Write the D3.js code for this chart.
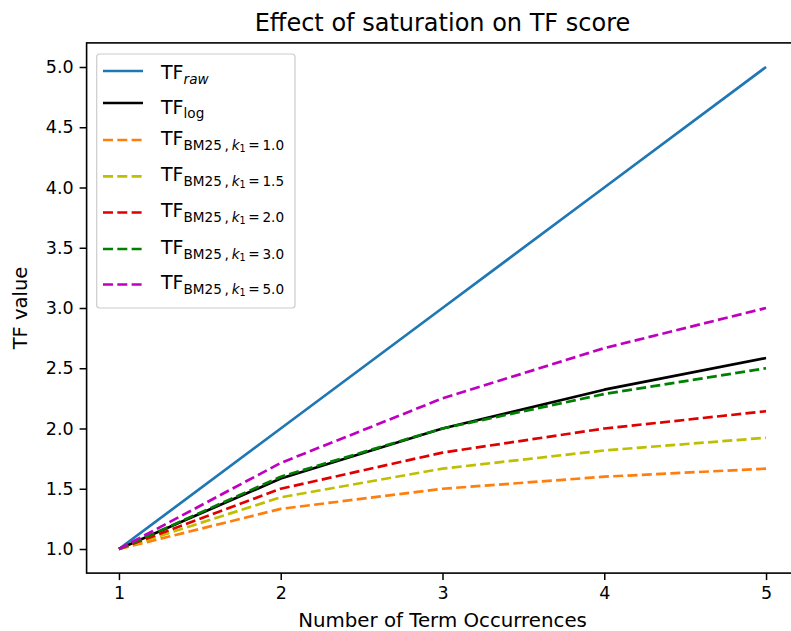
<!DOCTYPE html>
<html>
<head>
<meta charset="utf-8">
<script src="https://cdn.jsdelivr.net/npm/d3@7"></script>
<style>
  html, body { margin: 0; padding: 0; background: #fff; }
  svg { display: block; font-family: "DejaVu Sans", sans-serif; }
</style>
</head>
<body>
<svg id="chart" width="791" height="631"></svg>
<script>
// Term occurrence counts on the x axis
const occurrences = [1, 2, 3, 4, 5];

// TF variants for each occurrence count
const tfRaw = [1, 2, 3, 4, 5];
const tfLog = [1, 1.585, 2, 2.322, 2.585];
const bm25K1_0 = [1, 1.333, 1.5, 1.6, 1.667];
const bm25K1_5 = [1, 1.429, 1.667, 1.818, 1.923];
const bm25K2_0 = [1, 1.5, 1.8, 2.0, 2.143];
const bm25K3_0 = [1, 1.6, 2.0, 2.286, 2.5];
const bm25K5_0 = [1, 1.714, 2.25, 2.667, 3.0];

const xTicks = [1, 2, 3, 4, 5];
const yTicks = [1.0, 1.5, 2.0, 2.5, 3.0, 3.5, 4.0, 4.5, 5.0];

const series = [
  { values: tfRaw,    color: "#1f77b4", dashed: false, label: { kind: "raw" } },
  { values: tfLog,    color: "#000000", dashed: false, label: { kind: "log" } },
  { values: bm25K1_0, color: "#ff7f0e", dashed: true,  label: { kind: "bm25", k: "1.0" } },
  { values: bm25K1_5, color: "#bfbf00", dashed: true,  label: { kind: "bm25", k: "1.5" } },
  { values: bm25K2_0, color: "#e00000", dashed: true,  label: { kind: "bm25", k: "2.0" } },
  { values: bm25K3_0, color: "#008000", dashed: true,  label: { kind: "bm25", k: "3.0" } },
  { values: bm25K5_0, color: "#bf00bf", dashed: true,  label: { kind: "bm25", k: "5.0" } }
];

const svg = d3.select("#chart");
const plot = { left: 86.6, right: 798.4, top: 42.9, bottom: 573.1 };

const x = d3.scaleLinear().domain([0.8, 5.2]).range([plot.left, plot.right]);
const y = d3.scaleLinear().domain([0.8, 5.2]).range([plot.bottom, plot.top]);

const lineW = 2.7;
const dash = `${3.7 * lineW},${1.6 * lineW}`;

// Data lines
const line = d3.line().x((d, i) => x(occurrences[i])).y(d => y(d));
svg.append("g").selectAll("path").data(series).join("path")
  .attr("d", d => line(d.values))
  .attr("fill", "none")
  .attr("stroke", d => d.color)
  .attr("stroke-width", lineW)
  .attr("stroke-dasharray", d => d.dashed ? dash : null)
  .attr("stroke-linejoin", "round");

// Axes
const xAxis = svg.append("g").attr("transform", `translate(0,${plot.bottom})`)
  .call(d3.axisBottom(x).tickValues(xTicks).tickFormat(d3.format("d")).tickSize(7).tickPadding(6));
const yAxis = svg.append("g").attr("transform", `translate(${plot.left},0)`)
  .call(d3.axisLeft(y).tickValues(yTicks).tickFormat(d3.format(".1f")).tickSize(7).tickPadding(6));
[xAxis, yAxis].forEach(g => {
  g.select(".domain").remove();
  g.selectAll(".tick line").attr("stroke", "#000").attr("stroke-width", 1.5);
  g.selectAll(".tick text").attr("fill", "#000").attr("font-size", 17.5)
    .attr("font-family", "DejaVu Sans, sans-serif");
});

// Frame
svg.append("rect")
  .attr("x", plot.left).attr("y", plot.top)
  .attr("width", plot.right - plot.left).attr("height", plot.bottom - plot.top)
  .attr("fill", "none").attr("stroke", "#000").attr("stroke-width", 1.6);

// Title and axis labels
svg.append("text").attr("x", (plot.left + plot.right) / 2).attr("y", 31)
  .attr("text-anchor", "middle").attr("font-size", 24).text("Effect of saturation on TF score");
svg.append("text").attr("x", (plot.left + plot.right) / 2).attr("y", 627)
  .attr("text-anchor", "middle").attr("font-size", 19.8).text("Number of Term Occurrences");
svg.append("text").attr("transform", `translate(27,${(plot.top + plot.bottom) / 2}) rotate(-90)`)
  .attr("text-anchor", "middle").attr("font-size", 19.5).text("TF value");

// Legend
const legend = svg.append("g");
legend.append("rect").attr("x", 96.7).attr("y", 54).attr("width", 198.3).attr("height", 254)
  .attr("rx", 3).attr("fill", "rgba(255,255,255,0.8)").attr("stroke", "#cccccc").attr("stroke-width", 1.2);

const rowY = [71, 103, 140, 176.3, 212.5, 249, 284.5];
const baseOff = [8, 10.5, 4.7, 4.7, 4.7, 4.7, 4.7];
const fs = 19, sub = 13.6, subsub = 9.6;

series.forEach((s, i) => {
  const yy = rowY[i];
  legend.append("line").attr("x1", 103).attr("x2", 143).attr("y1", yy).attr("y2", yy)
    .attr("stroke", s.color).attr("stroke-width", lineW)
    .attr("stroke-dasharray", s.dashed ? dash : null);
  const t = legend.append("text").attr("x", 161).attr("y", yy + baseOff[i]).attr("font-size", fs);
  t.append("tspan").text("TF");
  if (s.label.kind === "raw") {
    t.append("tspan").attr("font-size", sub).attr("font-style", "italic").attr("dy", 4.5).text("raw");
  } else if (s.label.kind === "log") {
    t.append("tspan").attr("font-size", sub).attr("dy", 4.5).text("log");
  } else {
    t.append("tspan").attr("font-size", sub).attr("dy", 5).text("BM25\u2009,\u2009");
    t.append("tspan").attr("font-size", sub).attr("font-style", "italic").text("k");
    t.append("tspan").attr("font-size", subsub).attr("dy", 2).text("1");
    t.append("tspan").attr("font-size", sub).attr("dy", -2).text("\u2009=\u2009" + s.label.k);
  }
});
</script>
</body>
</html>
